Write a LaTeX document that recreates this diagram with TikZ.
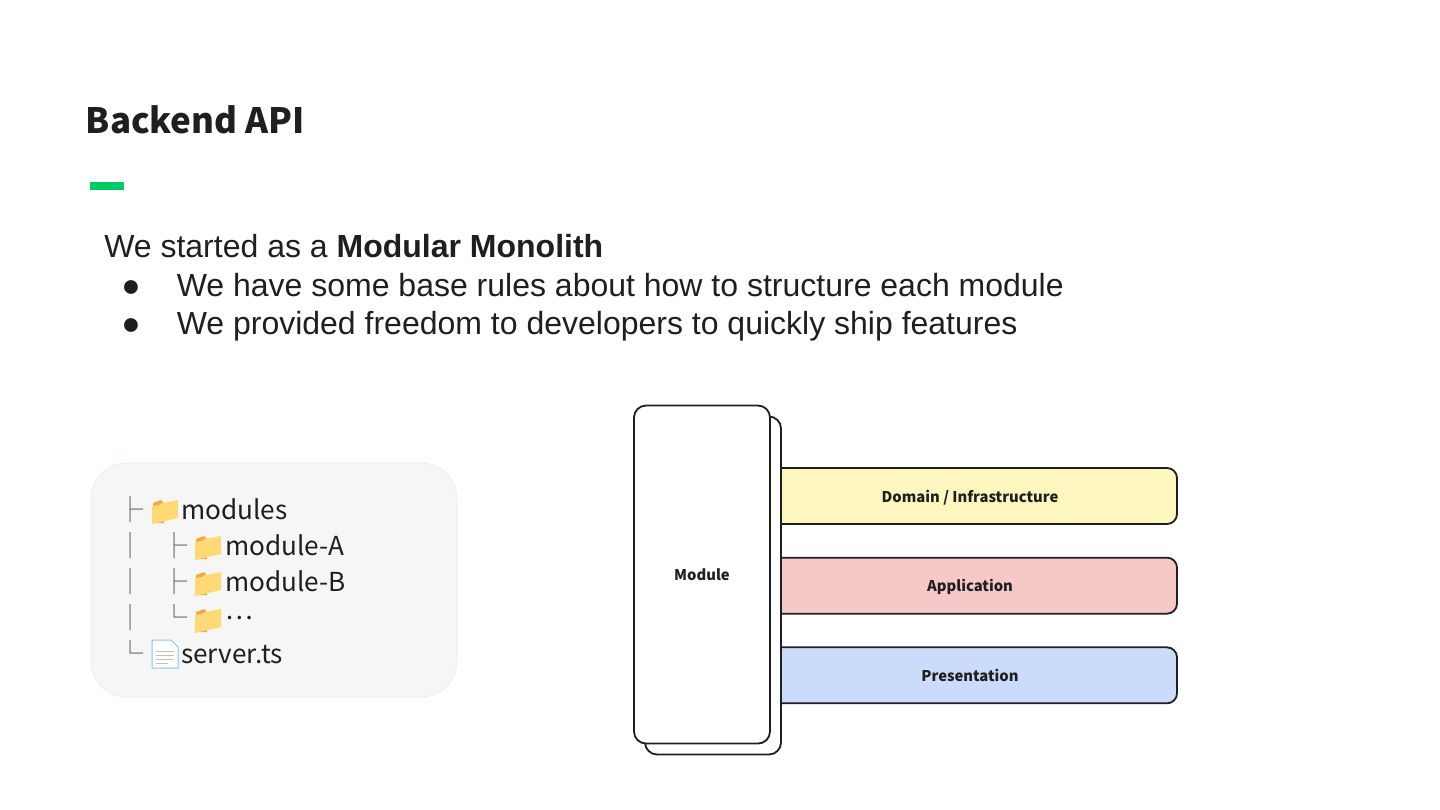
\documentclass[tikz,border=0pt]{standalone}
\usepackage{fontspec}
\setmainfont{Liberation Sans}
\newfontfamily\cjk{Noto Sans CJK KR}
\usetikzlibrary{positioning}
\definecolor{ink}{HTML}{1F1F1F}
\definecolor{accent}{HTML}{00CC66}
\definecolor{pale}{HTML}{F6F6F6}
\definecolor{paleedge}{HTML}{E4F4EB}
\definecolor{yellowbar}{HTML}{FDF6BE}
\definecolor{redbar}{HTML}{F6C8C8}
\definecolor{bluebar}{HTML}{CBDBFB}
\definecolor{folderback}{HTML}{F2A94A}
\definecolor{folderfront}{HTML}{FFD976}
\definecolor{pageedge}{HTML}{8CC4E0}
\tikzset{
  body/.style={anchor=base west,inner sep=0pt,text=ink,font=\fontsize{24}{28}\selectfont},
  tree/.style={anchor=base west,inner sep=0pt,text=ink,font=\cjk\fontsize{19.6}{24}\selectfont},
  glyph/.style={anchor=base west,inner sep=0pt,text=ink!70,font=\cjk\fontsize{19.6}{24}\selectfont},
  bar/.style={draw=ink,line width=1.35pt,rounded corners=7.5pt,minimum width=310.5pt,minimum height=42pt,text height=11pt,text depth=1.7pt,font=\cjk\bfseries\fontsize{11.1}{13}\selectfont,text=ink},
  card/.style={draw=ink,fill=white,line width=1.35pt,rounded corners=9pt,minimum width=102pt,minimum height=253.5pt,font=\cjk\bfseries\fontsize{11.1}{13}\selectfont,text=ink},
  folder/.pic={
    \fill[folderback] (-12,12)--(-12,-8)--(-4,-11)--(-1,-8)--(-1,12)--cycle;
    \fill[folderfront] (-13,13)--(-13,-5)--(-6,-6)--(-3,-8)--(13,-11)--(13,7)--cycle;
  },
}
\begin{document}
\begin{tikzpicture}[x=.75pt,y=-.75pt]
  \useasboundingbox (0,0) rectangle (1440,810);
  \node[anchor=base west,inner sep=0pt,text=ink,font=\cjk\bfseries\fontsize{26.2}{30}\selectfont] (title) at (85.5,133) {Backend API};
  \node[fill=accent,inner sep=0pt,minimum width=25.5pt,minimum height=5.5pt] (rule) at (107,186) {};

  \node[body] (intro) at (104,257) {We started as a \textbf{Modular Monolith}};
  \node[body] (dota) at (121,296) {●};
  \node[body] (itema) at (176.5,296) {We have some base rules about how to structure each module};
  \node[body] (dotb) at (121,334) {●};
  \node[body] (itemb) at (176.5,334) {We provided freedom to developers to quickly ship features};

  % file tree
  \node[draw=paleedge,fill=pale,line width=.75pt,rounded corners=27pt,minimum width=274.5pt,minimum height=175.5pt] (panel) at (274,580) {};
  \foreach \x/\y/\g in {117/519/├,161/555/├,161/591/├,161/627/└,117/663/└,117/555/│,117/591/│,117/627/│}
    \node[glyph] at (\x,\y) {\g};
  \foreach \x/\y in {165/511,208/547,208/583,208/620}
    \pic at (\x,\y) {folder};
  \node[tree] (modules) at (181,519) {modules};
  \node[tree] (modulea) at (225,555) {module-A};
  \node[tree] (moduleb) at (225,591) {module-B};
  \node[tree] (more) at (225,619) {…};
  \node[tree] (server) at (181,663) {server.ts};
  \draw[pageedge,fill=white,line width=.75pt] (152,640)--(171,640)--(178,647)--(178,668)--(152,668)--cycle;
  \draw[black!25,line width=.75pt] (156,651)--(174,651) (156,655)--(174,655) (156,659)--(174,659) (156,663)--(168,663);

  % layers
  \node[bar,fill=yellowbar] (domain) at (970,496) {Domain / Infrastructure};
  \node[bar,fill=redbar,below=23.9pt of domain] (application) {Application};
  \node[bar,fill=bluebar,below=23.9pt of application] (presentation) {Presentation};
  \node[card] (back) at (713,585.5) {};
  \node[card,yshift=-.4pt] (module) at (702,574) {Module};
\end{tikzpicture}
\end{document}
